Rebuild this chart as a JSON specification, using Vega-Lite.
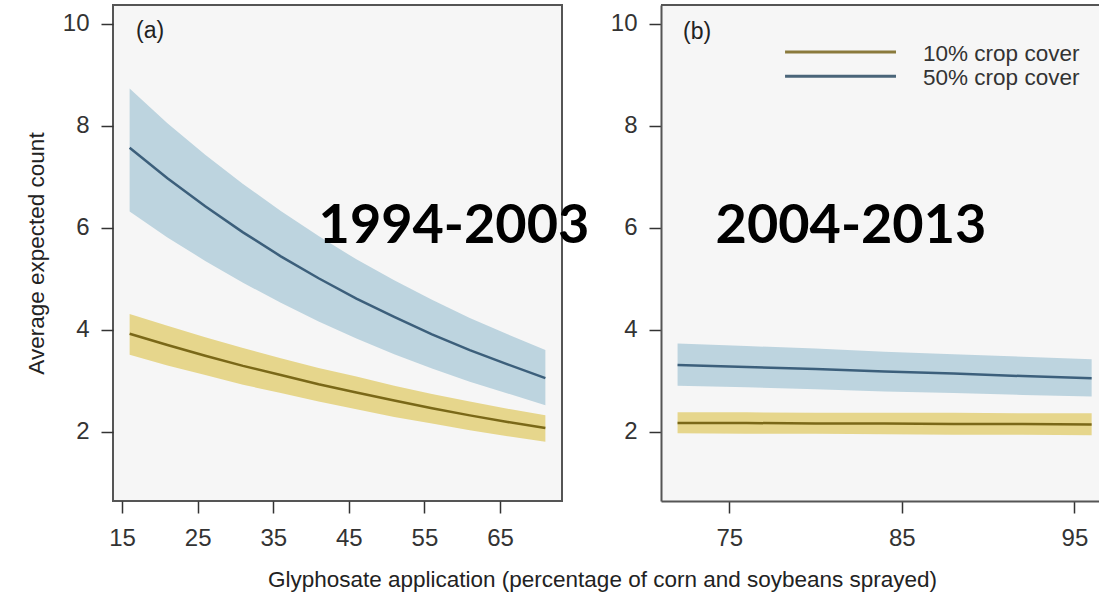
{
  "$schema": "https://vega.github.io/schema/vega-lite/v6.json",
  "background": "white",
  "autosize": {"type": "pad"},
  "padding": {"left": 24, "top": 4, "right": 0, "bottom": 0},
  "bounds": "flush",
  "spacing": 99,
  "config": {
    "font": "Liberation Sans",
    "view": {"fill": "#f6f6f6", "stroke": "#555555", "strokeWidth": 2},
    "axis": {
      "grid": false,
      "domain": false,
      "labelFont": "Liberation Sans",
      "labelFontSize": 24,
      "labelColor": "#333333",
      "tickColor": "#333333",
      "tickWidth": 1.5,
      "tickSize": 12,
      "titleFont": "Liberation Sans",
      "titleFontWeight": "normal",
      "titleColor": "#222222"
    },
    "axisX": {"labelPadding": 13},
    "axisY": {"labelPadding": 12}
  },
  "datasets": {
    "early": [
      {"cover": "10% crop cover", "x": 16, "fit": 3.92, "lo": 3.51, "hi": 4.31},
      {"cover": "10% crop cover", "x": 21, "fit": 3.70, "lo": 3.30, "hi": 4.08},
      {"cover": "10% crop cover", "x": 26, "fit": 3.49, "lo": 3.11, "hi": 3.85},
      {"cover": "10% crop cover", "x": 31, "fit": 3.29, "lo": 2.92, "hi": 3.64},
      {"cover": "10% crop cover", "x": 36, "fit": 3.11, "lo": 2.76, "hi": 3.44},
      {"cover": "10% crop cover", "x": 41, "fit": 2.93, "lo": 2.59, "hi": 3.25},
      {"cover": "10% crop cover", "x": 46, "fit": 2.77, "lo": 2.44, "hi": 3.08},
      {"cover": "10% crop cover", "x": 51, "fit": 2.61, "lo": 2.29, "hi": 2.90},
      {"cover": "10% crop cover", "x": 56, "fit": 2.46, "lo": 2.16, "hi": 2.74},
      {"cover": "10% crop cover", "x": 61, "fit": 2.32, "lo": 2.03, "hi": 2.59},
      {"cover": "10% crop cover", "x": 66, "fit": 2.19, "lo": 1.91, "hi": 2.45},
      {"cover": "10% crop cover", "x": 71, "fit": 2.07, "lo": 1.80, "hi": 2.32},
      {"cover": "50% crop cover", "x": 16, "fit": 7.57, "lo": 6.32, "hi": 8.73},
      {"cover": "50% crop cover", "x": 21, "fit": 6.97, "lo": 5.81, "hi": 8.05},
      {"cover": "50% crop cover", "x": 26, "fit": 6.42, "lo": 5.35, "hi": 7.43},
      {"cover": "50% crop cover", "x": 31, "fit": 5.91, "lo": 4.92, "hi": 6.86},
      {"cover": "50% crop cover", "x": 36, "fit": 5.44, "lo": 4.53, "hi": 6.33},
      {"cover": "50% crop cover", "x": 41, "fit": 5.01, "lo": 4.16, "hi": 5.84},
      {"cover": "50% crop cover", "x": 46, "fit": 4.61, "lo": 3.83, "hi": 5.38},
      {"cover": "50% crop cover", "x": 51, "fit": 4.25, "lo": 3.52, "hi": 4.97},
      {"cover": "50% crop cover", "x": 56, "fit": 3.91, "lo": 3.24, "hi": 4.59},
      {"cover": "50% crop cover", "x": 61, "fit": 3.60, "lo": 2.98, "hi": 4.23},
      {"cover": "50% crop cover", "x": 66, "fit": 3.32, "lo": 2.75, "hi": 3.91},
      {"cover": "50% crop cover", "x": 71, "fit": 3.05, "lo": 2.52, "hi": 3.60}
    ],
    "late": [
      {"cover": "10% crop cover", "x": 72, "fit": 2.17, "lo": 1.97, "hi": 2.38},
      {"cover": "10% crop cover", "x": 76, "fit": 2.17, "lo": 1.96, "hi": 2.38},
      {"cover": "10% crop cover", "x": 80, "fit": 2.16, "lo": 1.96, "hi": 2.37},
      {"cover": "10% crop cover", "x": 84, "fit": 2.16, "lo": 1.95, "hi": 2.37},
      {"cover": "10% crop cover", "x": 88, "fit": 2.15, "lo": 1.94, "hi": 2.37},
      {"cover": "10% crop cover", "x": 92, "fit": 2.15, "lo": 1.94, "hi": 2.36},
      {"cover": "10% crop cover", "x": 96, "fit": 2.14, "lo": 1.93, "hi": 2.36},
      {"cover": "50% crop cover", "x": 72, "fit": 3.31, "lo": 2.90, "hi": 3.73},
      {"cover": "50% crop cover", "x": 76, "fit": 3.27, "lo": 2.87, "hi": 3.68},
      {"cover": "50% crop cover", "x": 80, "fit": 3.23, "lo": 2.83, "hi": 3.63},
      {"cover": "50% crop cover", "x": 84, "fit": 3.18, "lo": 2.79, "hi": 3.57},
      {"cover": "50% crop cover", "x": 88, "fit": 3.14, "lo": 2.76, "hi": 3.52},
      {"cover": "50% crop cover", "x": 92, "fit": 3.09, "lo": 2.72, "hi": 3.47},
      {"cover": "50% crop cover", "x": 96, "fit": 3.05, "lo": 2.69, "hi": 3.42}
    ]
  },
  "hconcat": [
    {
      "width": 449,
      "height": 496,
      "layer": [
        {
          "data": {"name": "early"},
          "mark": {"type": "area", "opacity": 1},
          "encoding": {
            "x": {
              "field": "x", "type": "quantitative",
              "scale": {"domain": [13.8, 73.2], "nice": false, "zero": false},
              "axis": {
                "values": [15, 25, 35, 45, 55, 65],
                "title": "Glyphosate application (percentage of corn and soybeans sprayed)",
                "titleFontSize": 22.5,
                "titleX": 489,
                "titleY": 85,
                "titleAlign": "center",
                "titleBaseline": "alphabetic"
              }
            },
            "y": {
              "field": "lo", "type": "quantitative",
              "scale": {"domain": [0.64, 10.37], "nice": false, "zero": false},
              "axis": {
                "values": [2, 4, 6, 8, 10],
                "title": "Average expected count",
                "titleFontSize": 22.5,
                "titlePadding": 14
              }
            },
            "y2": {"field": "hi"},
            "fill": {
              "field": "cover", "type": "nominal",
              "scale": {"domain": ["10% crop cover", "50% crop cover"], "range": ["#e6d68c", "#bdd4df"]},
              "legend": null
            }
          }
        },
        {
          "data": {"name": "early"},
          "mark": {"type": "line", "strokeWidth": 2.5},
          "encoding": {
            "x": {"field": "x", "type": "quantitative"},
            "y": {"field": "fit", "type": "quantitative"},
            "stroke": {
              "field": "cover", "type": "nominal",
              "scale": {"domain": ["10% crop cover", "50% crop cover"], "range": ["#7a6818", "#3c5f7b"]},
              "legend": null
            }
          }
        },
        {
          "data": {"values": [{"label": "(a)"}]},
          "mark": {"type": "text", "align": "left", "baseline": "middle", "fontSize": 23, "color": "#222222"},
          "encoding": {
            "x": {"datum": 16.85, "type": "quantitative"},
            "y": {"datum": 9.86, "type": "quantitative"},
            "text": {"field": "label"}
          }
        },
        {
          "data": {"values": [{"label": "1994-2003"}]},
          "mark": {"type": "text", "align": "center", "baseline": "alphabetic", "font": "Lato", "fontWeight": "bold", "fontSize": 54, "color": "#000000"},
          "encoding": {
            "x": {"datum": 58.9, "type": "quantitative"},
            "y": {"datum": 5.70, "type": "quantitative"},
            "text": {"field": "label"}
          }
        }
      ]
    },
    {
      "width": 441,
      "height": 496,
      "view": {"stroke": null, "fill": "#f6f6f6"},
      "layer": [
        {
          "data": {"name": "late"},
          "mark": {"type": "area", "opacity": 1},
          "encoding": {
            "x": {
              "field": "x", "type": "quantitative",
              "scale": {"domain": [71.04, 96.6], "nice": false, "zero": false},
              "axis": {"values": [75, 85, 95], "title": null, "domain": true, "domainColor": "#555555", "domainWidth": 2}
            },
            "y": {
              "field": "lo", "type": "quantitative",
              "scale": {"domain": [0.64, 10.37], "nice": false, "zero": false},
              "axis": {"values": [2, 4, 6, 8, 10], "title": null, "domain": true, "domainColor": "#555555", "domainWidth": 2}
            },
            "y2": {"field": "hi"},
            "fill": {
              "field": "cover", "type": "nominal",
              "scale": {"domain": ["10% crop cover", "50% crop cover"], "range": ["#e6d68c", "#bdd4df"]},
              "legend": null
            }
          }
        },
        {
          "data": {"name": "late"},
          "mark": {"type": "line", "strokeWidth": 2.5},
          "encoding": {
            "x": {"field": "x", "type": "quantitative"},
            "y": {"field": "fit", "type": "quantitative"},
            "stroke": {
              "field": "cover", "type": "nominal",
              "scale": {"domain": ["10% crop cover", "50% crop cover"], "range": ["#7a6818", "#3c5f7b"]},
              "legend": null
            }
          }
        },
        {
          "data": {"values": [{"edge": "top"}]},
          "mark": {"type": "rule", "color": "#555555", "strokeWidth": 2},
          "encoding": {
            "x": {"datum": 71.04, "type": "quantitative"},
            "x2": {"datum": 96.6},
            "y": {"datum": 10.37, "type": "quantitative"}
          }
        },
        {
          "data": {"values": [{"label": "10% crop cover", "ly": 9.45}, {"label": "50% crop cover", "ly": 8.97}]},
          "mark": {"type": "rule", "strokeWidth": 3},
          "encoding": {
            "x": {"datum": 78.23, "type": "quantitative"},
            "x2": {"datum": 84.66},
            "y": {"field": "ly", "type": "quantitative"},
            "stroke": {
              "field": "label", "type": "nominal",
              "scale": {"domain": ["10% crop cover", "50% crop cover"], "range": ["#8a7a3c", "#4a6579"]},
              "legend": null
            }
          }
        },
        {
          "data": {"values": [{"label": "10% crop cover", "ty": 9.40}, {"label": "50% crop cover", "ty": 8.93}]},
          "mark": {"type": "text", "align": "left", "baseline": "middle", "fontSize": 22.5, "color": "#333333"},
          "encoding": {
            "x": {"datum": 86.23, "type": "quantitative"},
            "y": {"field": "ty", "type": "quantitative"},
            "text": {"field": "label"}
          }
        },
        {
          "data": {"values": [{"label": "(b)"}]},
          "mark": {"type": "text", "align": "left", "baseline": "middle", "fontSize": 23, "color": "#222222"},
          "encoding": {
            "x": {"datum": 72.32, "type": "quantitative"},
            "y": {"datum": 9.84, "type": "quantitative"},
            "text": {"field": "label"}
          }
        },
        {
          "data": {"values": [{"label": "2004-2013"}]},
          "mark": {"type": "text", "align": "center", "baseline": "alphabetic", "font": "Lato", "fontWeight": "bold", "fontSize": 54, "color": "#000000"},
          "encoding": {
            "x": {"datum": 82.05, "type": "quantitative"},
            "y": {"datum": 5.70, "type": "quantitative"},
            "text": {"field": "label"}
          }
        }
      ],
      "resolve": {"scale": {"stroke": "independent"}}
    }
  ]
}
